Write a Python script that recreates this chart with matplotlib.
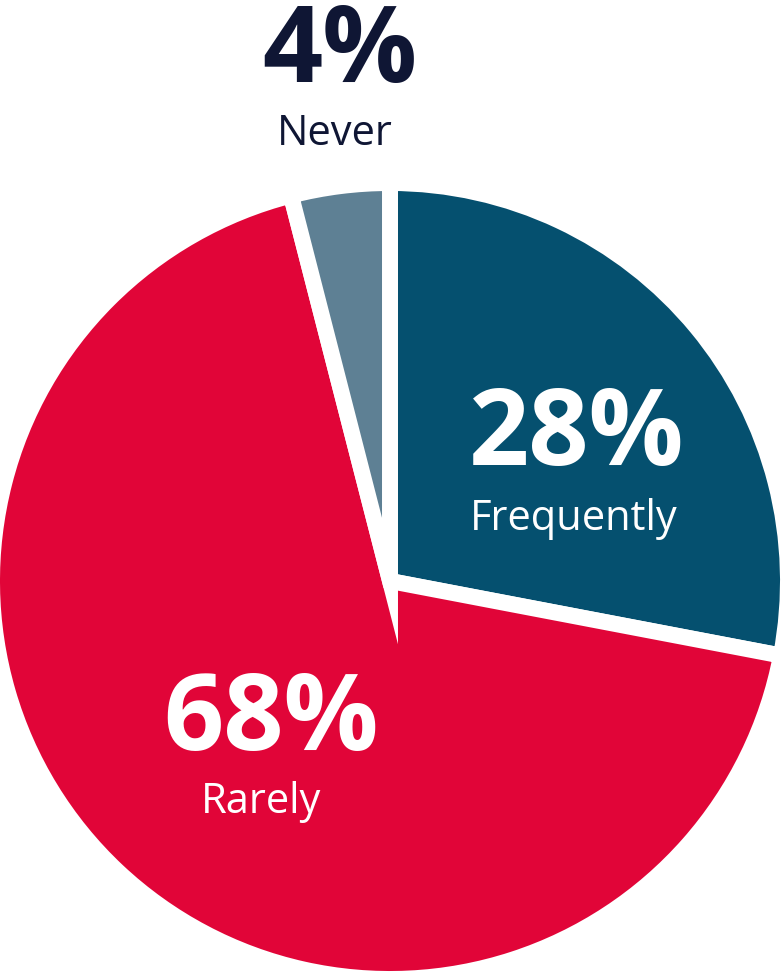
import matplotlib.pyplot as plt

labels = ["Frequently", "Rarely", "Never"]
values = [28, 68, 4]
colors = ["#05506F", "#E10538", "#5E8094"]

W, H = 782, 972
fig = plt.figure(figsize=(W / 100, H / 100), dpi=100)
ax = fig.add_axes([0, 0, 1, 1])

ax.pie(values, colors=colors, startangle=90, counterclock=False,
       center=(390, H - 581), radius=398,
       wedgeprops=dict(edgecolor="white", linewidth=11.5))

ax.set_xlim(0, W)
ax.set_ylim(0, H)
ax.set_aspect("equal")
ax.axis("off")

font = ["Open Sans", "DejaVu Sans"]
# value x, name x, value baseline, name baseline (pixels from top), colour
spots = {
    "Frequently": (577, 574, 465, 530, "white"),
    "Rarely": (271, 261, 750, 813, "white"),
    "Never": (340, 335, 82, 145, "#0F1634"),
}
for lab, v in zip(labels, values):
    xv, xn, yb, yn, c = spots[lab]
    ax.text(xv, H - yb, f"{v}%", ha="center", va="baseline", fontsize=76,
            fontweight="bold", color=c, family=font)
    ax.text(xn, H - yn, lab, ha="center", va="baseline", fontsize=30,
            color=c, family=font)

fig.savefig("out.png", dpi=100)
